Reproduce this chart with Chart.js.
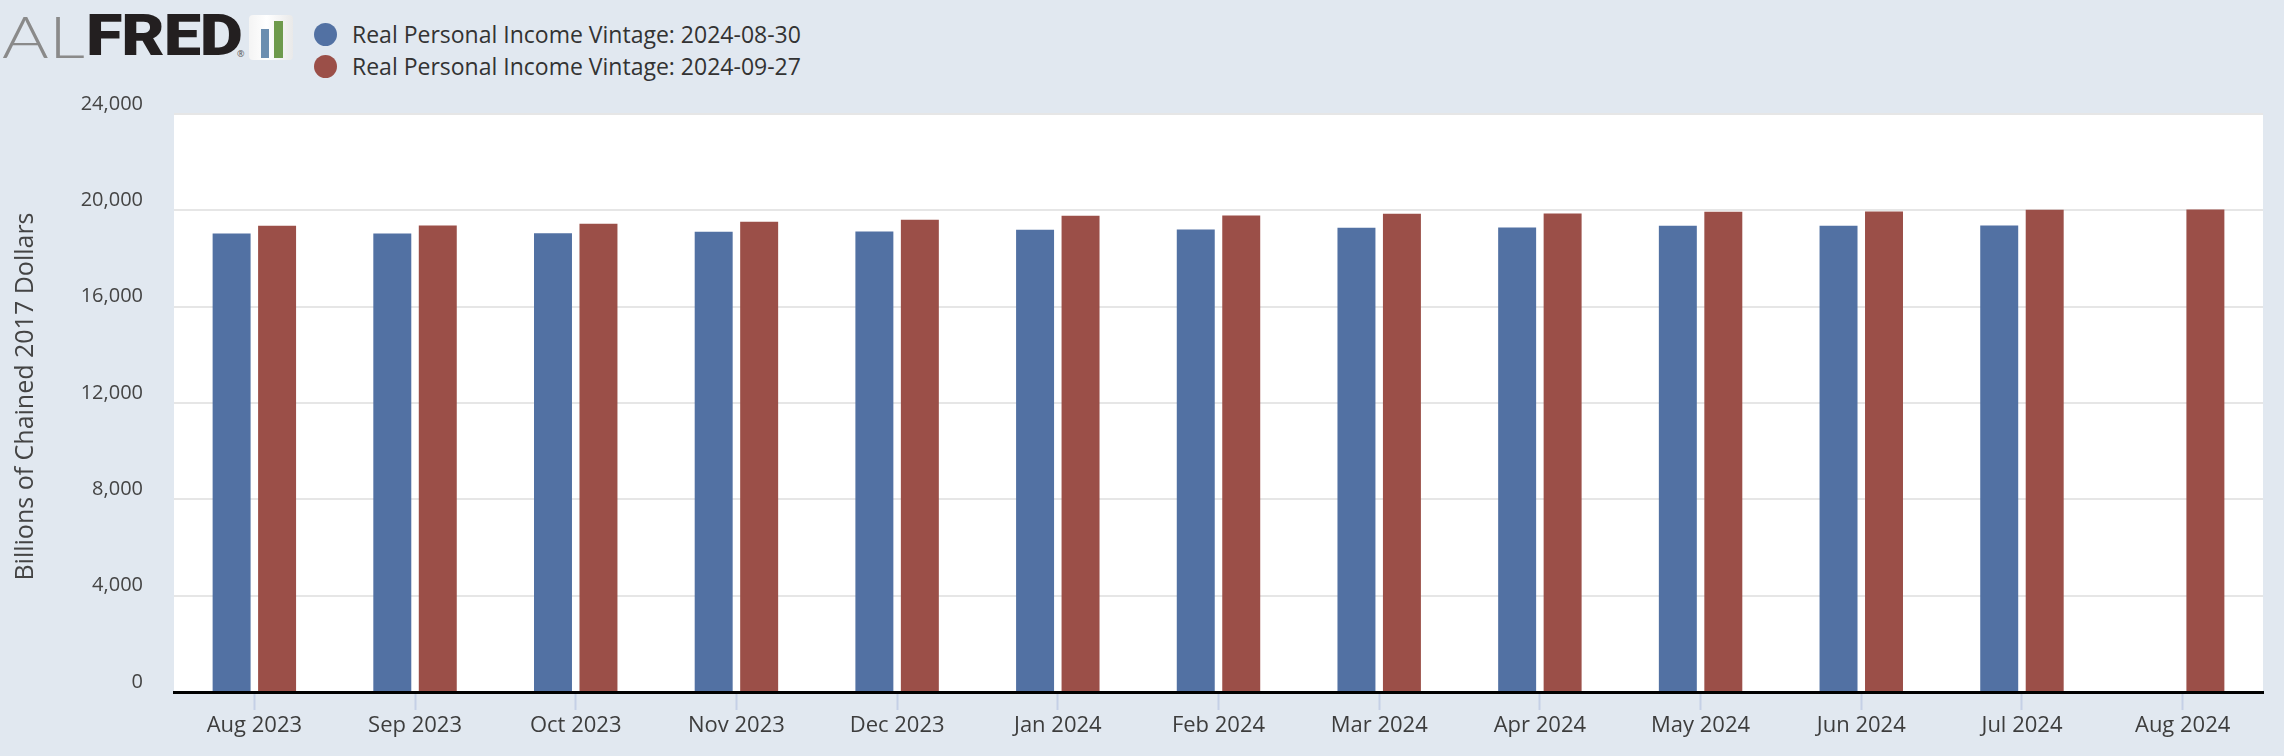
<!DOCTYPE html>
<html>
<head>
<meta charset="utf-8">
<script src="https://cdn.jsdelivr.net/npm/chart.js@4/dist/chart.umd.min.js"></script>
<style>
  html, body { margin: 0; padding: 0; background: #e1e8f0; }
  #wrap { position: relative; width: 2284px; height: 756px; background: #e1e8f0; overflow: hidden; }
  #chart { position: absolute; left: 0; top: 0; }
  #logo { position: absolute; left: 0; top: 5px; height: 62px; white-space: nowrap; }
  #logo .al { position: absolute; left: 2px; top: 0; font-family: 'Lato', 'Roboto', sans-serif; font-weight: 300; font-size: 57px; color: #8a8a8a; line-height: 62px; transform: scaleX(1.25); transform-origin: left center; }
  #logo .fred { position: absolute; left: 86px; top: 0; font-family: 'Roboto', 'Lato', sans-serif; font-weight: 900; font-size: 57px; color: #231f20; letter-spacing: -1px; line-height: 62px; transform: scaleX(1.17); transform-origin: left center; }
  #logo .reg { position: absolute; left: 237px; top: 42px; font-family: 'Open Sans', sans-serif; font-size: 9px; color: #555; }
  #logo .icon { position: absolute; left: 249px; top: 10px; width: 44px; height: 45px; border-radius: 4px; background: linear-gradient(90deg, #f4f4f4, #ffffff 40%, #e9e9e9); }
  #logo .icon .b1 { position: absolute; left: 12px; top: 14px; width: 8px; height: 29px; background: #6b8eb0; }
  #logo .icon .b2 { position: absolute; left: 25px; top: 6px; width: 9px; height: 37px; background: #6e9a4c; }
  #legend { position: absolute; left: 314px; top: 18px; font-family: 'Open Sans', sans-serif; font-size: 23px; color: #333; }
  #legend .item { height: 32px; line-height: 32px; display: flex; align-items: center; }
  #legend .dot { width: 23px; height: 23px; border-radius: 50%; margin-right: 15px; }
</style>
</head>
<body>
<div id="wrap">
  <div id="logo">
    <span class="al">AL</span><span class="fred">FRED</span><span class="reg">®</span>
    <div class="icon"><div class="b1"></div><div class="b2"></div></div>
  </div>
  <div id="legend"></div>
  <canvas id="chart" width="2284" height="756"></canvas>
</div>
<script>
'use strict'

const months = ['Aug 2023', 'Sep 2023', 'Oct 2023', 'Nov 2023', 'Dec 2023', 'Jan 2024',
  'Feb 2024', 'Mar 2024', 'Apr 2024', 'May 2024', 'Jun 2024', 'Jul 2024', 'Aug 2024'];

// billions of chained 2017 dollars
const vintageAug = [19035, 19040, 19045, 19110, 19125, 19195, 19205, 19280, 19285, 19360, 19365, 19370, null];
const vintageSep = [19365, 19370, 19445, 19530, 19610, 19780, 19785, 19860, 19865, 19945, 19950, 20025, 20030];

const seriesNames = ['Real Personal Income Vintage: 2024-08-30', 'Real Personal Income Vintage: 2024-09-27'];
const seriesColors = ['#5271a3', '#9b4f48'];

const yTicks = [0, 4000, 8000, 12000, 16000, 20000, 24000];
// leading nbsp nudges the rotated title up a little, like FRED's
const yTitle = '\u00a0\u00a0Billions of Chained 2017 Dollars';

// html legend, two rows like FRED
const legendBox = document.getElementById('legend');
for (let i = 0; i < seriesNames.length; i++) {
  let item = document.createElement('div');
  item.className = 'item';
  let dot = document.createElement('span');
  dot.className = 'dot';
  dot.style.background = seriesColors[i];
  item.appendChild(dot);
  let txt = document.createElement('span');
  txt.textContent = seriesNames[i];
  item.appendChild(txt);
  legendBox.appendChild(item);
}

const data = {
  labels: months,
  datasets: [
    { label: seriesNames[0], data: vintageAug, backgroundColor: seriesColors[0] },
    { label: seriesNames[1], data: vintageSep, backgroundColor: seriesColors[1] }
  ]
};

const config = {
  type: 'bar',
  data: data,
  options: {
    responsive: false,
    animation: false,
    layout: { padding: { left: 0, top: 114, right: 21, bottom: 0 } },
    datasets: { bar: { categoryPercentage: 0.566, barPercentage: 0.835 } },
    plugins: { legend: { display: false }, tooltip: { enabled: false } },
    scales: {
      x: {
        z: 1,
        grid: { display: true, drawOnChartArea: false, drawTicks: true, tickLength: 18, tickColor: '#c5d0e6', tickWidth: 2, offset: false },
        border: { display: true, color: '#000', width: 3 },
        ticks: { color: '#3d3d3d', padding: 3, maxRotation: 0, autoSkip: false, font: { family: 'Open Sans', size: 22 } },
        afterFit: function(scale) { scale.height = 64; }
      },
      y: {
        min: 0,
        max: 24000,
        afterBuildTicks: function(scale) { scale.ticks = yTicks.map(v => ({ value: v })); },
        grid: { color: '#e6e6e6', lineWidth: 2, drawTicks: false },
        border: { display: false },
        ticks: {
          color: '#444',
          padding: 31,
          font: { family: 'Open Sans', size: 20, lineHeight: '20px' },
          callback: function(v) { return [Number(v).toLocaleString('en-US'), '']; }
        },
        title: { display: true, text: yTitle, color: '#444', padding: { top: 11, bottom: 0 }, font: { family: 'Open Sans', size: 25 } },
        afterFit: function(scale) { scale.width = 174; }
      }
    }
  },
  plugins: [{
    id: 'plotBg',
    beforeDraw: function(chart) {
      const a = chart.chartArea;
      const ctx = chart.ctx;
      ctx.save();
      ctx.fillStyle = '#ffffff';
      ctx.fillRect(a.left, a.top, a.right - a.left, a.bottom - a.top);
      ctx.restore();
    }
  }]
};

let myChart = new Chart(document.getElementById('chart'), config);
</script>
</body>
</html>
